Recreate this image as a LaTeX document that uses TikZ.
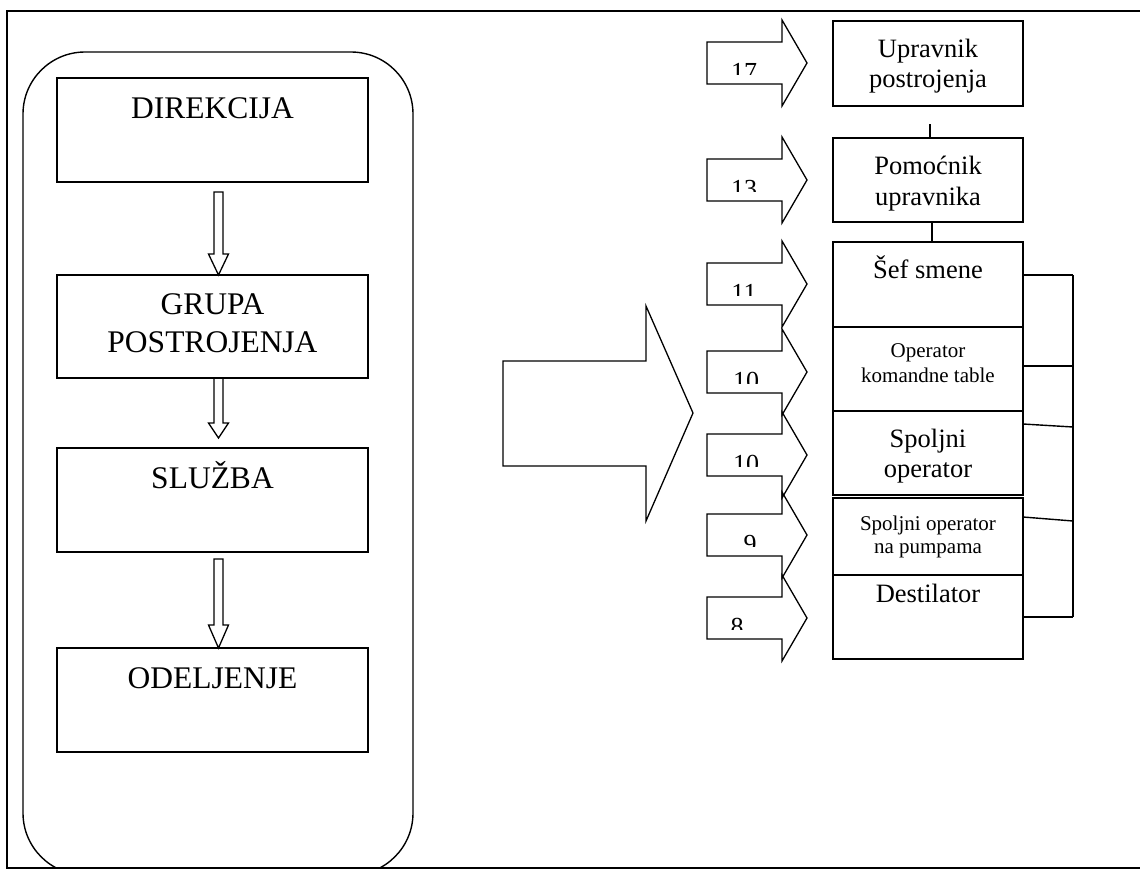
\documentclass[tikz,border=0pt]{standalone}
\usepackage{fontspec}
\setmainfont{Liberation Serif}
\usetikzlibrary{positioning,calc}

% hollow down arrow between two points: start, tip, head length
\newcommand{\hollowarrow}[3]{%
  \draw[hollow] let \p1=(#1), \p2=(#2) in
    (\x1-4.5pt,\y1) -- (\x1+4.5pt,\y1) -- (\x1+4.5pt,\y2+#3) -- (\x1+10pt,\y2+#3)
    -- (\x1,\y2) -- (\x1-10pt,\y2+#3) -- (\x1-4.5pt,\y2+#3) -- cycle;}
% rank arrow on the right: name, tip y, label x, label
\newcommand{\rankarrow}[4]{%
  \draw[rank] (707,#2-21) -- (782,#2-21) -- (782,#2-43) -- (807,#2)
    -- (782,#2+43) -- (782,#2+21) -- (707,#2+21) -- cycle;
  \begin{scope}
    \clip (707,#2-21) rectangle (782,#2+11);
    \node[num, anchor=base] (#1) at (#3,#2+17) {#4};
  \end{scope}}

\begin{document}
\begin{tikzpicture}[
        x=1pt, y=-1pt,
        line width=1.4pt,
        lbox/.style={draw, outer sep=0pt, inner sep=0pt, minimum width=311pt, align=center,
            font=\fontsize{31.5}{38}\selectfont, text height=40pt, text depth=64pt},
        rbox/.style={draw, outer sep=0pt, inner sep=0pt, minimum width=190pt, align=center,
            font=\fontsize{26.5}{30}\selectfont},
        sbox/.style={rbox, font=\fontsize{21}{25}\selectfont},
        hollow/.style={line width=1.3pt, line join=miter},
        rank/.style={line width=1.3pt, line join=miter},
        num/.style={inner sep=0pt, font=\fontsize{26}{30}\selectfont},
    ]
        \useasboundingbox (0,0) rectangle (1140,870);

        % --- container and frame ---
        \begin{scope}
            \clip (0,0) rectangle (1140,868);
            \draw[rounded corners=62pt] (23,52) rectangle (413,875);
        \end{scope}
        \draw (1140,11) -- (7,11) -- (7,868) -- (1140,868);

        % --- left chain ---
        \node[lbox] (dir) at (212.5,130) {DIREKCIJA};
        \node[lbox, below=93pt of dir, text height=77pt, text depth=26pt] (grp) {GRUPA\\POSTROJENJA};
        \node[lbox, below=70pt of grp] (slu) {SLUŽBA};
        \node[lbox, below=96pt of slu] (ode) {ODELJENJE};

        \coordinate (a1s) at ($(dir.south)+(6,10)$);
        \coordinate (a1e) at (grp.north -| a1s);
        \coordinate (a2s) at ($(grp.south)+(6,0)$);
        \coordinate (a2e) at ($(slu.north)+(6,-10)$);
        \coordinate (a3s) at ($(slu.south)+(6,7)$);
        \coordinate (a3e) at (ode.north -| a3s);
        \hollowarrow{a1s}{a1e}{21pt}
        \hollowarrow{a2s}{a2e}{15pt}
        \hollowarrow{a3s}{a3e}{23pt}

        % --- big arrow ---
        \draw[rank] (503,361) -- (646,361) -- (646,306) -- (693,413)
            -- (646,521) -- (646,466) -- (503,466) -- cycle;

        % --- right column ---
        \node[rbox, text height=66pt, text depth=19pt] (up) at (928,63.5) {Upravnik\\postrojenja};
        \node[rbox, below=32pt of up, font=\fontsize{26.5}{31}\selectfont,
            text height=67pt, text depth=17pt] (pom) {Pomoćnik\\upravnika};
        \node[rbox, below=20pt of pom, text height=36pt, text depth=49pt] (sef) {Šef smene};
        \node[sbox, below=0pt of sef, text height=55pt, text depth=29pt] (opk) {Operator\\komandne table};
        \node[rbox, below=0pt of opk, text height=66pt, text depth=18pt] (spo) {Spoljni\\operator};
        \node[sbox, below=3pt of spo, font=\fontsize{21}{23}\selectfont,
            text height=55pt, text depth=22pt] (pum) {Spoljni operator\\na pumpama};
        \node[rbox, below=0pt of pum, text height=27pt, text depth=57pt] (des) {Destilator};

        \draw ($(up.south)+(2,18)$) -- ($(pom.north)+(2,0)$);
        \draw ($(pom.south)+(4,0)$) -- ($(sef.north)+(4,0)$);

        % bracket on the right
        \coordinate (brt) at ($(sef.north east)+(50,33)$);
        \coordinate (brb) at ($(des.north east)+(50,42)$);
        \draw (brt) -- (brb);
        \draw ($(sef.north east)+(0,33)$) -- (brt);
        \draw ($(opk.north east)+(0,39)$) -- ++(50,0);
        \draw ($(spo.north east)+(0,13)$) -- ++(50,3);
        \draw ($(pum.north east)+(0,19)$) -- ++(50,4);
        \draw ($(des.north east)+(0,42)$) -- (brb);

        % --- rank arrows ---
        \rankarrow{r17}{63}{744}{17}
        \rankarrow{r13}{180}{744}{13}
        \rankarrow{r11}{284}{744}{11}
        \rankarrow{r10a}{372}{746}{10}
        \rankarrow{r10b}{455}{746}{10}
        \rankarrow{r9}{535}{750}{9}
        \rankarrow{r8}{618}{737}{8}

\end{tikzpicture}
\end{document}
